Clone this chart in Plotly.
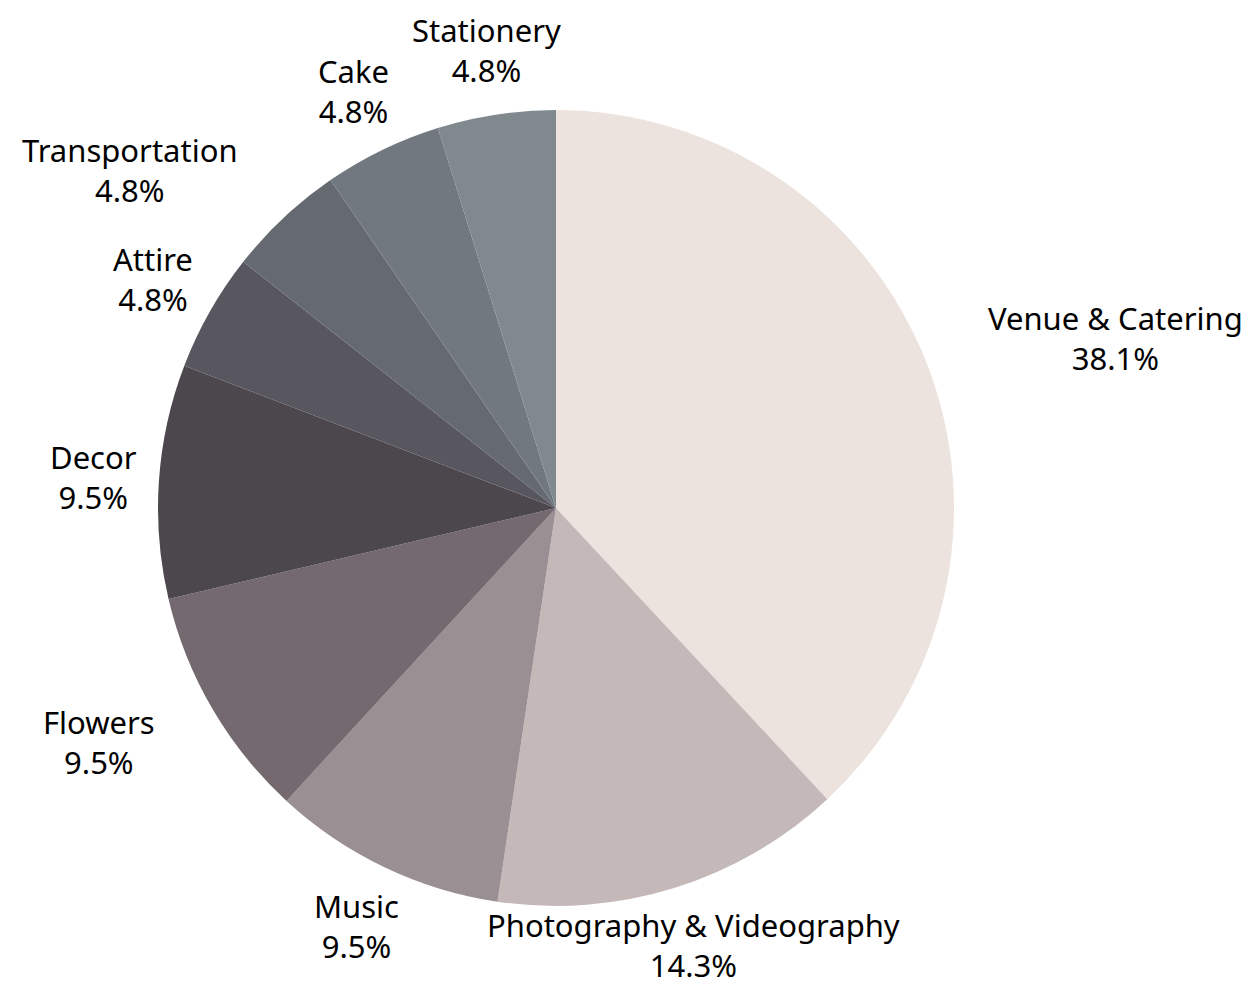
import math
import plotly.graph_objects as go

categories = ["Venue & Catering", "Photography & Videography", "Music", "Flowers",
              "Decor", "Attire", "Transportation", "Cake", "Stationery"]
values = [38.1, 14.3, 9.5, 9.5, 9.5, 4.8, 4.8, 4.8, 4.8]
colors = ["#ECE3DF", "#C4B8B8", "#9A8F93", "#73696E", "#4C474D",
          "#58565F", "#656970", "#71787F", "#7F898E"]
label_anchor = ["left", "center", "center", "right", "center",
                "center", "right", "center", "center"]

W, H = 1254, 988
FONT = 31
# pie geometry in figure pixels (top-left origin)
CX, CY, R = 548, 500, 398
LABEL_R = 1.165 * R
VISIBLE_BOTTOM = H - 8  # page body margin hides the last pixels

fig = go.Figure(go.Pie(
    labels=categories,
    values=values,
    sort=False,
    direction="clockwise",
    rotation=0,
    marker=dict(colors=colors, line=dict(width=0)),
    textinfo="none",
    hoverinfo="label+percent",
    domain=dict(x=[(CX - R) / W, (CX + R) / W], y=[1 - (CY + R) / H, 1 - (CY - R) / H]),
    showlegend=False,
))

total = sum(values)
cum = 0.0
for lab, v, anc in zip(categories, values, label_anchor):
    mid = (cum + v / 2) / total * 2 * math.pi
    cum += v
    px = CX + LABEL_R * math.sin(mid)
    py = CY - LABEL_R * math.cos(mid)
    bottom = py + 1.3 * FONT + 3
    shift = max(0.0, bottom - VISIBLE_BOTTOM)
    fig.add_annotation(
        x=px / W, y=1 - py / H, xref="paper", yref="paper",
        text=f"{lab}<br>{v / total * 100:.1f}%",
        showarrow=False, xanchor=anc, yanchor="middle", align="center",
        yshift=shift, borderpad=0,
        font=dict(family="Noto Sans", size=FONT, color="#000000"),
    )

fig.update_layout(
    width=W, height=H,
    margin=dict(l=0, r=0, t=0, b=0),
    paper_bgcolor="#FFFFFF",
    plot_bgcolor="#FFFFFF",
)

fig.write_html("out.html")
